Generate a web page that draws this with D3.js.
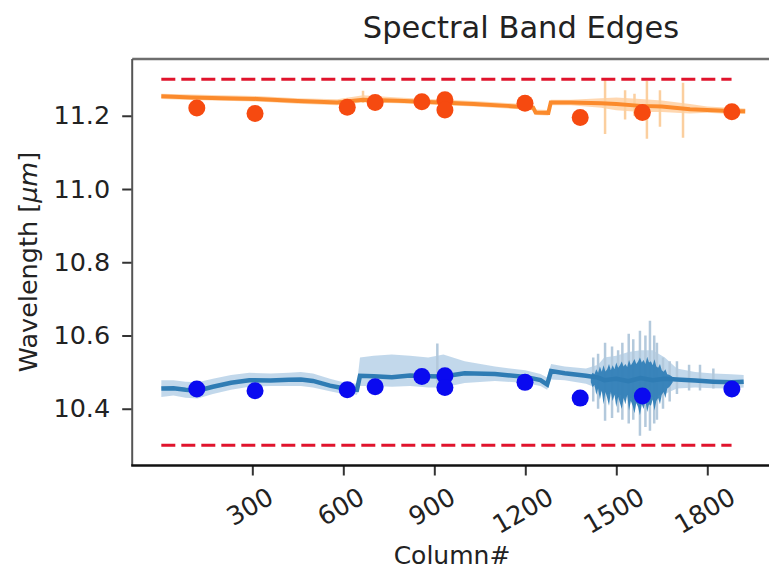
<!DOCTYPE html>
<html>
<head>
<meta charset="utf-8">
<script src="https://cdn.jsdelivr.net/npm/d3@7"></script>
<style>
  html, body { margin: 0; padding: 0; background: #fff; }
  svg { display: block; font-family: "DejaVu Sans", sans-serif; }
</style>
</head>
<body>
<svg id="chart" width="769" height="571"></svg>
<script>
// ---- Axis ticks ----
const xTicks = [300, 600, 900, 1200, 1500, 1800];
const yTicks = [10.4, 10.6, 10.8, 11.0, 11.2];

// ---- Band edge limits (dashed) ----
const limitValues = [11.3, 10.3];
const limitCols = [0, 1880];

// ---- Lower edge (blue): mean trace and spread ----
const blueCols = [0, 40, 80, 120, 170, 230, 290, 360, 420, 460, 500, 556, 600, 645, 655, 700, 760, 820, 880, 930,
                  1000, 1100, 1200, 1250, 1272, 1285, 1330, 1400, 1440, 1460, 1500, 1540, 1580, 1620, 1660, 1700, 1760, 1820, 1880, 1920];
const blueMid = [10.455, 10.456, 10.452, 10.449, 10.460, 10.471, 10.478, 10.477, 10.479, 10.480, 10.476, 10.463, 10.456, 10.452, 10.490, 10.489, 10.486, 10.491, 10.489, 10.488,
                 10.497, 10.495, 10.487, 10.478, 10.466, 10.503, 10.497, 10.490, 10.485, 10.478, 10.482, 10.475, 10.484, 10.478, 10.482, 10.480, 10.477, 10.474, 10.472, 10.474];
const blueLo = [10.432, 10.436, 10.430, 10.428, 10.440, 10.452, 10.460, 10.462, 10.462, 10.462, 10.458, 10.448, 10.440, 10.438, 10.462, 10.462, 10.460, 10.462, 10.458, 10.458,
                10.470, 10.476, 10.470, 10.462, 10.452, 10.480, 10.478, 10.468, 10.455, 10.440, 10.440, 10.430, 10.425, 10.432, 10.440, 10.455, 10.458, 10.456, 10.455, 10.458];
const blueHi = [10.478, 10.478, 10.474, 10.472, 10.482, 10.492, 10.498, 10.496, 10.498, 10.500, 10.496, 10.482, 10.472, 10.468, 10.540, 10.545, 10.548, 10.545, 10.540, 10.548,
                10.530, 10.515, 10.505, 10.495, 10.485, 10.522, 10.515, 10.510, 10.520, 10.540, 10.545, 10.555, 10.560, 10.560, 10.540, 10.510, 10.500, 10.496, 10.494, 10.492];

// dense scatter of the lower edge in the noisy columns
const blueNoiseCols = [1416, 1422, 1428, 1434, 1440, 1446, 1452, 1458, 1464, 1470, 1476, 1482, 1488, 1494, 1500, 1506,
                       1512, 1518, 1524, 1530, 1536, 1542, 1548, 1554, 1560, 1566, 1572, 1578, 1584, 1590, 1596, 1602,
                       1608, 1614, 1620, 1626, 1632, 1638, 1644, 1650, 1656, 1662, 1668, 1674, 1680, 1686];
const blueNoiseLo = [10.472, 10.459, 10.465, 10.438, 10.455, 10.425, 10.450, 10.412, 10.446, 10.429, 10.408, 10.446, 10.421, 10.438, 10.405, 10.433,
                     10.416, 10.399, 10.429, 10.412, 10.438, 10.395, 10.421, 10.408, 10.388, 10.416, 10.404, 10.382, 10.412, 10.399, 10.421, 10.391,
                     10.412, 10.408, 10.425, 10.395, 10.421, 10.429, 10.412, 10.438, 10.446, 10.429, 10.455, 10.459, 10.465, 10.472];
const blueNoiseHi = [10.490, 10.498, 10.494, 10.508, 10.498, 10.515, 10.501, 10.519, 10.502, 10.508, 10.522, 10.505, 10.519, 10.508, 10.526, 10.512,
                     10.519, 10.529, 10.515, 10.522, 10.514, 10.533, 10.519, 10.526, 10.536, 10.522, 10.529, 10.540, 10.526, 10.533, 10.522, 10.542,
                     10.526, 10.530, 10.519, 10.535, 10.515, 10.512, 10.522, 10.505, 10.501, 10.508, 10.494, 10.493, 10.490, 10.487];

// single-column outliers of the lower edge
const blueSpikeCols = [910, 1424, 1440, 1463, 1486, 1506, 1520, 1541, 1556, 1578, 1596, 1611, 1625, 1634, 1654, 1676, 1700, 1740, 1776, 1820];
const blueSpikeLo = [10.470, 10.420, 10.400, 10.367, 10.375, 10.390, 10.370, 10.360, 10.370, 10.326, 10.350, 10.340, 10.360, 10.370, 10.400, 10.420, 10.440, 10.450, 10.450, 10.455];
const blueSpikeHi = [10.578, 10.540, 10.550, 10.580, 10.570, 10.560, 10.580, 10.605, 10.590, 10.613, 10.600, 10.640, 10.600, 10.580, 10.540, 10.530, 10.530, 10.520, 10.520, 10.510];

// ---- Upper edge (orange): mean trace and spread ----
const orangeCols = [0, 100, 200, 315, 450, 580, 665, 780, 900, 1030, 1140, 1226, 1234, 1276, 1284, 1350, 1450, 1500, 1580, 1650, 1743, 1800, 1875, 1925];
const orangeMid = [11.253, 11.250, 11.248, 11.246, 11.240, 11.236, 11.244, 11.241, 11.237, 11.232, 11.227, 11.222, 11.209, 11.208, 11.236, 11.236, 11.234, 11.232, 11.227, 11.225, 11.218, 11.216, 11.213, 11.212];
const orangeLo = [11.246, 11.243, 11.241, 11.239, 11.233, 11.229, 11.236, 11.234, 11.230, 11.225, 11.220, 11.215, 11.202, 11.201, 11.229, 11.229, 11.222, 11.215, 11.210, 11.210, 11.206, 11.208, 11.205, 11.205];
const orangeHi = [11.260, 11.258, 11.256, 11.254, 11.248, 11.245, 11.256, 11.250, 11.245, 11.240, 11.235, 11.230, 11.217, 11.216, 11.244, 11.244, 11.248, 11.250, 11.246, 11.242, 11.232, 11.225, 11.222, 11.220];

const orangeSpikeCols = [665, 1463, 1529, 1560, 1601, 1644, 1720];
const orangeSpikeLo = [11.235, 11.150, 11.190, 11.200, 11.137, 11.170, 11.140];
const orangeSpikeHi = [11.268, 11.300, 11.270, 11.260, 11.295, 11.270, 11.290];

// ---- Measured edge positions (markers) ----
const upperPtCols = [117, 309, 613, 705, 859, 935, 935, 1199, 1381, 1586, 1881];
const upperPtVals = [11.221, 11.206, 11.223, 11.236, 11.238, 11.244, 11.216, 11.234, 11.195, 11.209, 11.211];
const lowerPtCols = [117, 309, 613, 705, 859, 935, 935, 1199, 1381, 1586, 1881];
const lowerPtVals = [10.454, 10.449, 10.452, 10.460, 10.488, 10.490, 10.458, 10.472, 10.429, 10.435, 10.454];

// ---- Layout ----
const svg = d3.select("#chart");
const plotLeft = 132.2, plotTop = 59, plotBottom = 465.5, svgW = 769;
const x = d3.scaleLinear().domain([-96, 2016]).range([plotLeft, 772.8]);
const y = d3.scaleLinear().domain([10.245, 11.355]).range([plotBottom, plotTop]);

svg.append("clipPath").attr("id", "plotClip")
  .append("rect").attr("x", plotLeft).attr("y", plotTop)
  .attr("width", svgW - plotLeft).attr("height", plotBottom - plotTop);
const plot = svg.append("g").attr("clip-path", "url(#plotClip)");

const zip = (cols, ...arrs) => cols.map((c, i) => [c, ...arrs.map(a => a[i])]);

const band = d3.area().x(d => x(d[0])).y0(d => y(d[1])).y1(d => y(d[2]));
const trace = d3.line().x(d => x(d[0])).y(d => y(d[1]));

// spread bands
plot.append("path").datum(zip(orangeCols, orangeLo, orangeHi))
  .attr("d", band).attr("fill", "#ffc68e").attr("opacity", 0.7);
plot.append("path").datum(zip(blueCols, blueLo, blueHi))
  .attr("d", band).attr("fill", "#a8c8e2").attr("opacity", 0.7);

// outliers
plot.append("g").selectAll("line").data(zip(orangeSpikeCols, orangeSpikeLo, orangeSpikeHi)).join("line")
  .attr("x1", d => x(d[0])).attr("x2", d => x(d[0]))
  .attr("y1", d => y(d[1])).attr("y2", d => y(d[2]))
  .attr("stroke", "#fbcf9f").attr("stroke-width", 2.5);
plot.append("g").selectAll("line").data(zip(blueSpikeCols, blueSpikeLo, blueSpikeHi)).join("line")
  .attr("x1", d => x(d[0])).attr("x2", d => x(d[0]))
  .attr("y1", d => y(d[1])).attr("y2", d => y(d[2]))
  .attr("stroke", "#b3c9dc").attr("stroke-width", 2.5);

// noisy lower-edge scatter
plot.append("path").datum(zip(blueNoiseCols, blueNoiseLo, blueNoiseHi))
  .attr("d", band).attr("fill", "#2e7db6").attr("opacity", 0.92);

// mean traces
plot.append("path").datum(zip(orangeCols, orangeMid))
  .attr("d", trace).attr("fill", "none").attr("stroke", "#fb8a2c").attr("stroke-width", 4);
plot.append("path").datum(zip(blueCols, blueMid))
  .attr("d", trace).attr("fill", "none").attr("stroke", "#2f7cb4").attr("stroke-width", 4.5);

// edge limits
limitValues.forEach(v => {
  plot.append("line")
    .attr("x1", x(limitCols[0])).attr("x2", x(limitCols[1]))
    .attr("y1", y(v)).attr("y2", y(v))
    .attr("stroke", "#e0142c").attr("stroke-width", 3)
    .attr("stroke-dasharray", "14,6");
});

// markers
plot.append("g").selectAll("circle").data(zip(upperPtCols, upperPtVals)).join("circle")
  .attr("cx", d => x(d[0])).attr("cy", d => y(d[1])).attr("r", 8.5).attr("fill", "#f64a10");
plot.append("g").selectAll("circle").data(zip(lowerPtCols, lowerPtVals)).join("circle")
  .attr("cx", d => x(d[0])).attr("cy", d => y(d[1])).attr("r", 8.5).attr("fill", "#0a0af0");

// ---- Axes ----
const tickFont = 25.5;
const yAxis = svg.append("g").attr("transform", `translate(${plotLeft},0)`)
  .call(d3.axisLeft(y).tickValues(yTicks).tickFormat(d3.format(".1f")).tickSize(10).tickPadding(12));
yAxis.select(".domain").remove();
yAxis.selectAll(".tick line").attr("stroke", "#333").attr("stroke-width", 2);
yAxis.selectAll(".tick text").attr("font-size", tickFont).attr("font-family", "DejaVu Sans").attr("fill", "#222");

const xAxis = svg.append("g").attr("transform", `translate(0,${plotBottom})`)
  .call(d3.axisBottom(x).tickValues(xTicks).tickFormat(d3.format("d")).tickSize(10));
xAxis.select(".domain").remove();
xAxis.selectAll(".tick line").attr("stroke", "#333").attr("stroke-width", 2);
xAxis.selectAll(".tick text").each(function () {
  const t = d3.select(this)
    .attr("font-size", tickFont).attr("font-family", "DejaVu Sans").attr("fill", "#222")
    .attr("dy", null).attr("y", 0).attr("text-anchor", "middle").attr("dominant-baseline", "central");
  const w = this.getComputedTextLength();
  const h = tickFont * 1.16;
  const a = 30 * Math.PI / 180;
  const cy = 16 + (w * Math.sin(a) + h * Math.cos(a)) / 2;
  t.attr("x", -3).attr("y", cy).attr("transform", `rotate(-30,-3,${cy})`);
});

// spines
svg.append("line").attr("x1", plotLeft).attr("x2", svgW).attr("y1", plotTop).attr("y2", plotTop)
  .attr("stroke", "#6e6e6e").attr("stroke-width", 2.5);
svg.append("line").attr("x1", plotLeft).attr("x2", plotLeft).attr("y1", plotTop).attr("y2", plotBottom)
  .attr("stroke", "#555").attr("stroke-width", 2);
svg.append("line").attr("x1", plotLeft - 1).attr("x2", svgW).attr("y1", plotBottom).attr("y2", plotBottom)
  .attr("stroke", "#111").attr("stroke-width", 2.5);

// ---- Titles ----
svg.append("text").attr("x", 521).attr("y", 38).attr("text-anchor", "middle")
  .attr("font-size", 30.5).attr("fill", "#222").text("Spectral Band Edges");

svg.append("text").attr("x", 452).attr("y", 564).attr("text-anchor", "middle")
  .attr("font-size", 25).attr("fill", "#222").text("Column#");

const yl = svg.append("text").attr("transform", `translate(37,262) rotate(-90)`)
  .attr("text-anchor", "middle").attr("font-size", 25.5).attr("fill", "#222");
yl.append("tspan").text("Wavelength [");
yl.append("tspan").attr("font-style", "italic").text("μm");
yl.append("tspan").text("]");
</script>
</body>
</html>
